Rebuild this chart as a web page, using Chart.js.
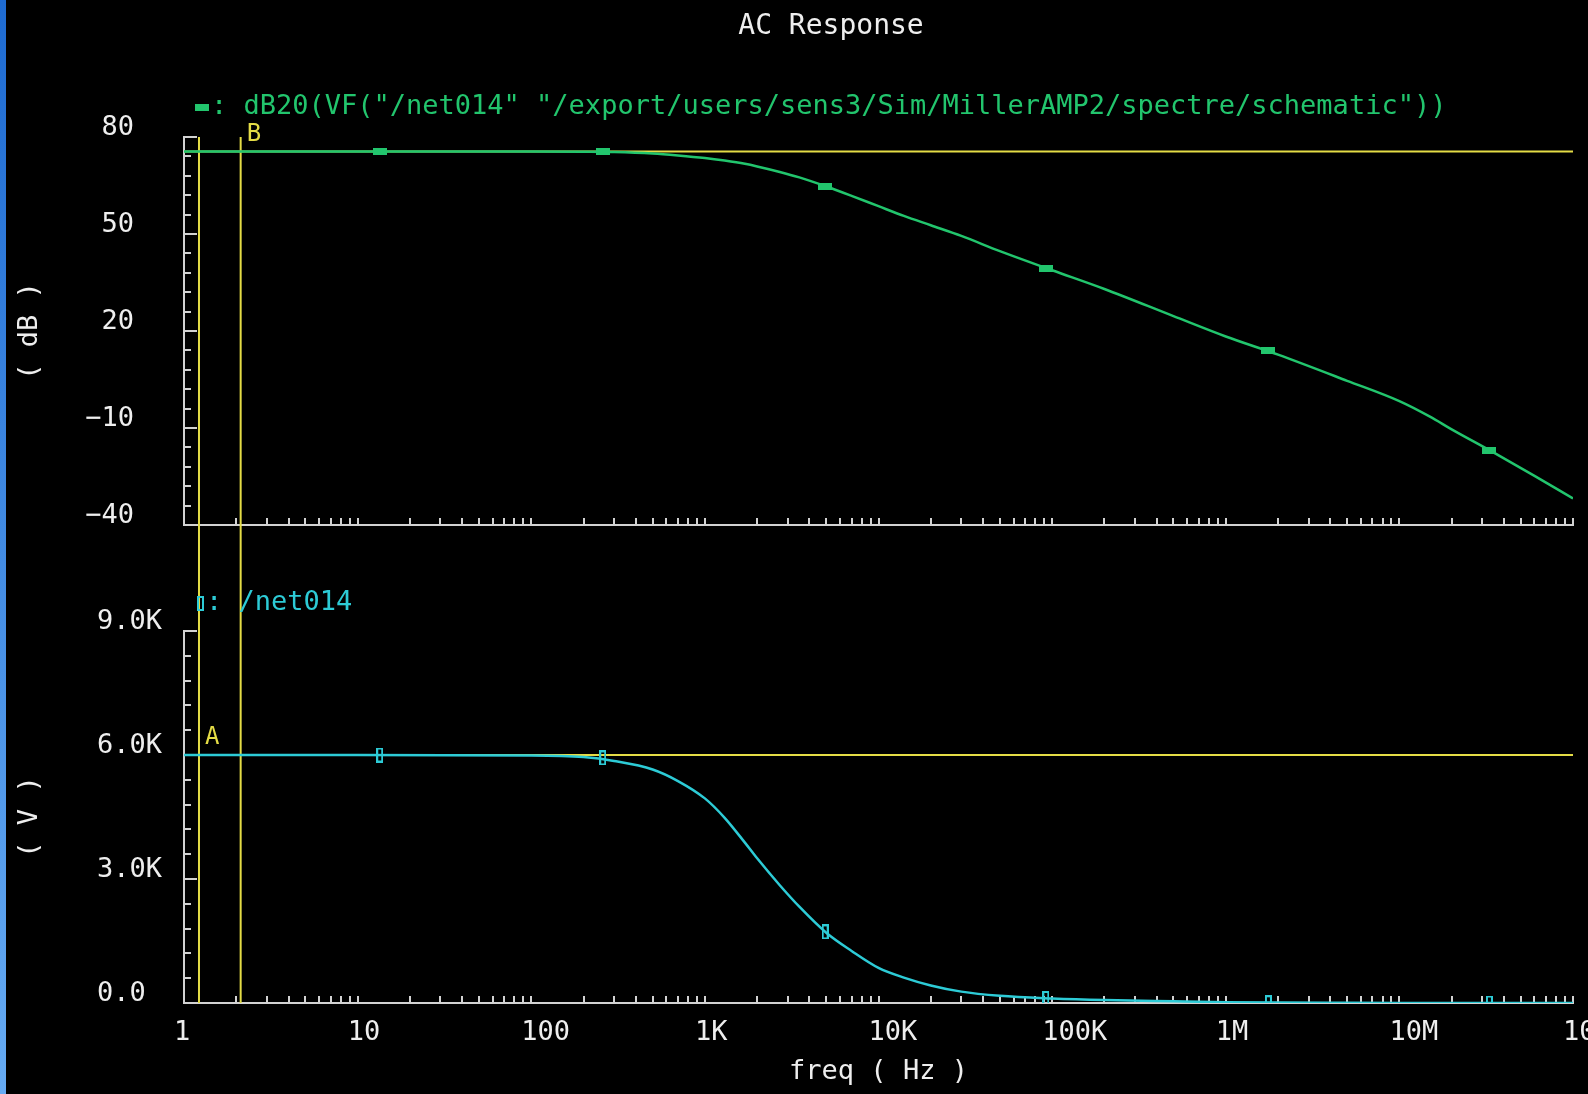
<!DOCTYPE html>
<html>
<head>
<meta charset="utf-8">
<title>AC Response</title>
<script src="https://cdn.jsdelivr.net/npm/chart.js@4.4.1/dist/chart.umd.min.js"></script>
<style>
  html, body { margin: 0; padding: 0; background: #000; }
  body { width: 1588px; height: 1094px; position: relative; overflow: hidden; }
  .edge { position: absolute; left: 0; top: 0; width: 6px; height: 100%; background: linear-gradient(#1e6bd2, #66abf3); z-index: 2; }
  #gain { position: absolute; left: 0; top: 0; }
  #volts { position: absolute; left: 0; top: 560px; }
</style>
</head>
<body>
<div class="edge"></div>
<canvas id="gain" width="1588" height="560"></canvas>
<canvas id="volts" width="1588" height="534"></canvas>
<script>
// AC sweep points (Hz)
const freqHz = [1, 10, 100, 200, 300, 500, 700, 1e3, 1.3e3, 1.7e3, 2e3, 2.7e3, 3.5e3, 5e3, 7e3,
  1e4, 1.4e4, 2e4, 3e4, 5e4, 1e5, 2e5, 5e5, 1e6, 2e6, 5e6, 1e7, 1.5e7, 2e7, 3.5e7, 6e7, 1e8];
// dB20(VF("/net014" ...))
const gainDb = [75.5, 75.5, 75.5, 75.45, 75.35, 74.9, 74.3, 73.5, 72.7, 71.7, 70.9, 69.2, 67.5, 64.7, 61.8,
  58.6, 55.6, 52.7, 49.4, 44.7, 38.8, 33.0, 24.6, 18.3, 12.7, 4.6, -1.7, -6.5, -10.4, -17.6, -24.8, -31.8];
// /net014 magnitude (V)
const netMag = [6000, 6000, 5990, 5950, 5855, 5650, 5370, 4950, 4480, 3880, 3500, 2850, 2330, 1700, 1260,
  850, 615, 425, 275, 175, 110, 70, 40, 20, 10, 5, 2, 1, 1, 0, 0, 0];

// trace symbols
const symbolHz = [13.4, 258, 4930, 9.2e4, 1.76e6, 3.3e7];
const symbolDb = [75.5, 75.45, 64.8, 39.4, 13.9, -17.0];
const symbolMag = [6000, 5930, 1720, 110, 5, 0];

// vertical cursors A, B and their horizontal levels
const cursorNames = ['A', 'B'];
const cursorHz = [1.22, 2.12];
const levelMag = 6000;   // A on /net014
const levelDb = 75.5;    // B on dB20

// axis ticks
const freqTicks = [1, 10, 100, 1e3, 1e4, 1e5, 1e6, 1e7, 1e8];
const freqLabels = ['1', '10', '100', '1K', '10K', '100K', '1M', '10M', '100M'];
const dbTicks = [-40, -10, 20, 50, 80];
const dbLabels = ['\u221240', '\u221210', '20', '50', '80'];
const magTicks = [0, 3000, 6000, 9000];
const magLabels = ['0.0 ', '3.0K', '6.0K', '9.0K'];

const GREEN = '#22c56d';
const CYAN = '#2dcbd6';
const YELLOW = '#e4dc46';
const AXIS = '#d2d2d2';
const TEXT = '#eeeeee';
const FAMILY = "'DejaVu Sans Mono', monospace";
const font = { family: FAMILY, size: 27 };

function makeSymbol(w, h, color, filled) {
  const c = document.createElement('canvas');
  c.width = w; c.height = h;
  const g = c.getContext('2d');
  g.strokeStyle = color;
  g.lineWidth = 2;
  g.strokeRect(1, 1, w - 2, h - 2);
  if (filled) { g.fillStyle = color; g.fillRect(2, 2, w - 4, h - 4); }
  return c;
}
const gainSymbol = makeSymbol(14, 7, GREEN, true);
const magSymbol = makeSymbol(7, 15, CYAN, false);

// short tick marks pointing into the plot
const axisTicks = {
  id: 'axisTicks',
  beforeDatasetsDraw(chart, args, o) {
    const { ctx, chartArea: a, scales: { x, y } } = chart;
    ctx.save();
    ctx.strokeStyle = AXIS;
    ctx.lineWidth = 2;
    ctx.beginPath();
    for (let d = 1; d < 1e8; d *= 10) {
      for (let m = 2; m <= 10; m++) {
        const px = Math.round(x.getPixelForValue(m * d));
        ctx.moveTo(px, a.bottom);
        ctx.lineTo(px, a.bottom - 7);
      }
    }
    const n = Math.round((y.max - y.min) / o.minor);
    for (let i = 0; i <= n; i++) {
      const py = Math.round(y.getPixelForValue(y.min + i * o.minor));
      ctx.moveTo(a.left, py);
      ctx.lineTo(a.left + (i % o.every === 0 ? 13 : 7), py);
    }
    ctx.stroke();
    ctx.restore();
  }
};

// "symbol: expression" above each plot
const traceLegend = {
  id: 'traceLegend',
  afterDraw(chart, args, o) {
    const { ctx, chartArea: a } = chart;
    const ds = chart.data.datasets[0];
    const x = a.left + o.dx, y = a.top - o.dy;
    ctx.save();
    ctx.drawImage(o.symbol, x, Math.round(y - o.symbol.height / 2));
    ctx.font = `27px ${FAMILY}`;
    ctx.fillStyle = ds.borderColor;
    ctx.textBaseline = 'middle';
    ctx.fillText(': ' + ds.label, x + o.symbol.width + 2, y);
    ctx.restore();
  }
};

const cursorTag = {
  id: 'cursorTag',
  afterDatasetsDraw(chart, args, o) {
    const { ctx, scales: { x, y } } = chart;
    ctx.save();
    ctx.font = `24px ${FAMILY}`;
    ctx.fillStyle = YELLOW;
    ctx.textBaseline = 'bottom';
    ctx.fillText(o.name, x.getPixelForValue(o.hz) + 6, y.getPixelForValue(o.level) - 5);
    ctx.restore();
  }
};

const headline = {
  id: 'headline',
  afterDraw(chart, args, o) {
    const { ctx } = chart;
    ctx.save();
    ctx.font = `28px ${FAMILY}`;
    ctx.fillStyle = TEXT;
    ctx.textAlign = 'center';
    ctx.textBaseline = 'middle';
    ctx.fillText(o.text, o.x, o.y);
    ctx.restore();
  }
};

function freqAxis(labelled, height) {
  return {
    type: 'logarithmic',
    min: 1,
    max: 1e8,
    grid: { display: false, drawTicks: false },
    border: { color: AXIS, width: 2 },
    afterBuildTicks: s => { s.ticks = freqTicks.map(v => ({ value: v })); },
    afterFit: s => { s.height = height; s.paddingLeft = 0; s.paddingRight = 0; },
    ticks: {
      display: labelled, autoSkip: false, maxRotation: 0, align: 'start',
      labelOffset: -10, padding: 14, color: TEXT, font,
      callback: (v, i) => freqLabels[i]
    },
    title: { display: labelled, text: 'freq ( Hz )', color: TEXT, font, padding: { top: 0, bottom: 6 } }
  };
}

function valueAxis(min, max, ticks, labels, title, pad) {
  return {
    min, max,
    grid: { display: false, drawTicks: false },
    border: { color: AXIS, width: 2 },
    afterBuildTicks: s => { s.ticks = ticks.map(v => ({ value: v })); },
    afterFit: s => { s.width = 184; s.paddingTop = 0; s.paddingBottom = 0; },
    ticks: { color: TEXT, font, padding: pad, labelOffset: -9, callback: (v, i) => labels[i] },
    title: { display: true, text: title, color: TEXT, font, padding: { top: 14, bottom: 0 } }
  };
}

function line(points, color, extra) {
  return Object.assign({ data: points, borderColor: color, borderWidth: 2, pointRadius: 0 }, extra);
}

function cursorLines(lo, hi) {
  return cursorHz.map(f => line([{ x: f, y: hi }, { x: f, y: lo }], YELLOW, { clip: false, order: 3 }));
}

const baseOptions = {
  responsive: false,
  animation: false,
  events: [],
  plugins: { legend: { display: false }, tooltip: { enabled: false } }
};

new Chart(document.getElementById('gain'), {
  type: 'line',
  data: {
    datasets: [
      line(freqHz.map((f, i) => ({ x: f, y: gainDb[i] })), GREEN, {
        label: 'dB20(VF("/net014" "/export/users/sens3/Sim/MillerAMP2/spectre/schematic"))',
        cubicInterpolationMode: 'monotone', borderWidth: 2.5, order: 1
      }),
      line(symbolHz.map((f, i) => ({ x: f, y: symbolDb[i] })), GREEN, { showLine: false, pointStyle: gainSymbol, pointRadius: 6, order: 0 }),
      line([{ x: 1, y: levelDb }, { x: 1e8, y: levelDb }], YELLOW, { order: 2 }),
      ...cursorLines(-60, 80)
    ]
  },
  options: {
    ...baseOptions,
    layout: { padding: { top: 137, right: 15, left: 0, bottom: 0 } },
    scales: {
      x: freqAxis(false, 35),
      y: valueAxis(-40, 80, dbTicks, dbLabels, '( dB )', 50)
    },
    plugins: {
      ...baseOptions.plugins,
      axisTicks: { minor: 6, every: 5 },
      traceLegend: { symbol: gainSymbol, dx: 11, dy: 30 },
      cursorTag: { name: cursorNames[1], hz: cursorHz[1], level: levelDb },
      headline: { text: 'AC Response', x: 831, y: 27 }
    }
  },
  plugins: [axisTicks, traceLegend, cursorTag, headline]
});

new Chart(document.getElementById('volts'), {
  type: 'line',
  data: {
    datasets: [
      line(freqHz.map((f, i) => ({ x: f, y: netMag[i] })), CYAN, {
        label: '/net014', cubicInterpolationMode: 'monotone', borderWidth: 2.5, order: 1
      }),
      line(symbolHz.map((f, i) => ({ x: f, y: symbolMag[i] })), CYAN, { showLine: false, pointStyle: magSymbol, pointRadius: 6, order: 0 }),
      line([{ x: 1, y: levelMag }, { x: 1e8, y: levelMag }], YELLOW, { order: 2 }),
      ...cursorLines(0, 14000)
    ]
  },
  options: {
    ...baseOptions,
    layout: { padding: { top: 71, right: 15, left: 0, bottom: 0 } },
    scales: {
      x: freqAxis(true, 91),
      y: valueAxis(0, 9000, magTicks, magLabels, '( V )', 22)
    },
    plugins: {
      ...baseOptions.plugins,
      axisTicks: { minor: 600, every: 5 },
      traceLegend: { symbol: magSymbol, dx: 13, dy: 28 },
      cursorTag: { name: cursorNames[0], hz: cursorHz[0], level: levelMag }
    }
  },
  plugins: [axisTicks, traceLegend, cursorTag]
});
</script>
</body>
</html>
